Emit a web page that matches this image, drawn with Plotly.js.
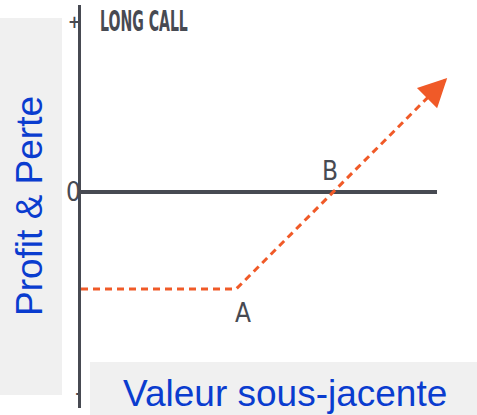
<!DOCTYPE html>
<html>
<head>
<meta charset="utf-8">
<script src="https://cdn.plot.ly/plotly-3.0.1.min.js"></script>
<style>html,body{margin:0;padding:0;background:#fff;}#chart{width:477px;height:415px;}</style>
</head>
<body>
<div id="chart"></div>
<script>
// Data (arbitrary units: underlying price on x, profit on y)
const payoffPrice = [0, 3.2, 7.55];
const payoffProfit = [-2, -2, 2.35];
const zeroLinePrice = [0, 7.34];
const zeroLineProfit = [0, 0];
const strikeLabel = 'A';
const breakEvenLabel = 'B';
const strikePoint = [3.2, -2];
const breakEvenPoint = [5.2, 0];
const yTickVals = [-4.06, 0, 3.57];
const yTickText = ['<span style="font-size:14px"><b>-</b></span>', '0', '<span style="font-size:17px"><b>+</b></span>'];
const chartTitle = 'LONG CALL';
const xTitle = 'Valeur sous-jacente';
const yTitle = 'Profit &amp; Perte';

const dark = '#474a52';
const orange = '#f05a28';
const blue = '#0a3ccf';
const narrow = '"DejaVu Sans Condensed", "Liberation Sans Narrow", sans-serif';

const n = payoffPrice.length;
const traces = [
  {
    x: zeroLinePrice, y: zeroLineProfit, mode: 'lines',
    line: {color: dark, width: 4}, hoverinfo: 'skip', showlegend: false
  },
  {
    x: payoffPrice, y: payoffProfit, mode: 'lines',
    line: {color: orange, width: 3, dash: '7px,5px'},
    hoverinfo: 'skip', showlegend: false, cliponaxis: false
  }
];

const layout = {
  width: 477, height: 415,
  margin: {l: 81, r: 30, t: 5, b: 7},
  paper_bgcolor: '#fff', plot_bgcolor: '#fff',
  showlegend: false,
  xaxis: {range: [0, 7.546], showgrid: false, zeroline: false, showline: false,
          showticklabels: false, ticks: '', fixedrange: true},
  yaxis: {range: [-4.454, 3.856], showgrid: false, zeroline: false,
          showline: true, linecolor: dark, linewidth: 3,
          tickvals: yTickVals, ticktext: yTickText, ticks: '',
          tickfont: {family: narrow, size: 26, color: dark},
          ticklabelstandoff: -8, fixedrange: true},
  shapes: [
    {type: 'rect', xref: 'paper', yref: 'paper', layer: 'below',
     x0: -81/366, x1: -19/366, y0: (415-7-395)/403, y1: (415-7-18)/403,
     fillcolor: '#f0f0f0', line: {width: 0}},
    {type: 'rect', xref: 'paper', yref: 'paper', layer: 'above',
     x0: 9/366, x1: 396/366, y0: -7/403, y1: (415-7-362)/403,
     fillcolor: '#f0f0f0', line: {width: 0}}
  ],
  annotations: [
    {text: '<b>' + chartTitle + '</b>', xref: 'paper', yref: 'paper',
     x: 17/366, y: (410-23)/403, xanchor: 'left', yanchor: 'middle', showarrow: false,
     font: {family: narrow, size: 29, color: dark}},
    {text: '', xref: 'x', yref: 'y', axref: 'x', ayref: 'y',
     x: payoffPrice[n-1], y: payoffProfit[n-1],
     ax: payoffPrice[n-1] - 0.26, ay: payoffProfit[n-1] - 0.26,
     showarrow: true, arrowhead: 2, arrowsize: 1.9, arrowwidth: 3, arrowcolor: orange, standoff: 0},
    {text: strikeLabel, xref: 'x', yref: 'y', x: strikePoint[0], y: strikePoint[1],
     xshift: 7, yshift: -24, showarrow: false,
     font: {family: narrow, size: 26, color: dark}},
    {text: breakEvenLabel, xref: 'x', yref: 'y', x: breakEvenPoint[0], y: breakEvenPoint[1],
     xshift: -3, yshift: 21, showarrow: false,
     font: {family: narrow, size: 26, color: dark}},
    {text: xTitle, xref: 'paper', yref: 'paper',
     x: 203.5/366, y: (408-393.5)/403, xanchor: 'center', yanchor: 'middle', showarrow: false,
     font: {family: '"Liberation Sans", Arial, sans-serif', size: 37, color: blue}},
    {text: yTitle, xref: 'paper', yref: 'paper', textangle: -90,
     x: -52/366, y: (408-206)/403, xanchor: 'center', yanchor: 'middle', showarrow: false,
     font: {family: '"Liberation Sans", Arial, sans-serif', size: 37, color: blue}}
  ]
};

Plotly.newPlot('chart', traces, layout, {displayModeBar: false, staticPlot: true}).then(function (gd) {
  // condense the title horizontally to mimic the condensed display face
  const t = gd.querySelector('.annotation[data-index="0"] text');
  if (t) {
    const bb = t.getBBox();
    const x0 = bb.x, sx = 0.54;
    t.setAttribute('transform', 'translate(' + x0 + ',0) scale(' + sx + ',1) translate(' + (-x0) + ',0)');
  }
});
</script>
</body>
</html>
